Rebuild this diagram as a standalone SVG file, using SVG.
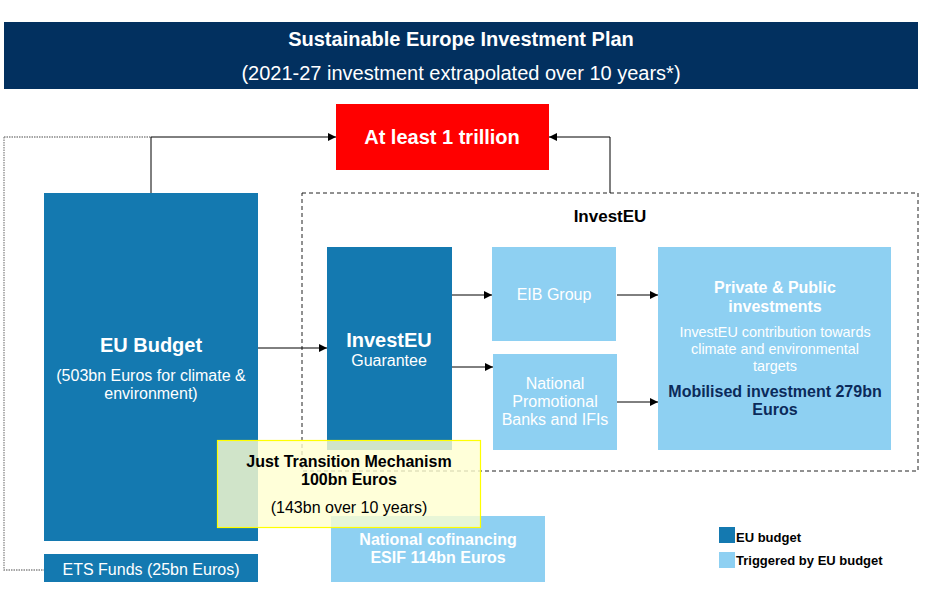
<svg xmlns="http://www.w3.org/2000/svg" width="944" height="600" viewBox="0 0 944 600">
<defs>
<marker id="arr" viewBox="0 0 10 10" refX="10" refY="5" markerWidth="8" markerHeight="8" markerUnits="userSpaceOnUse" orient="auto"><path d="M0,0 L10,5 L0,10 z" fill="#000"/></marker>
<style>
text{font-family:"Liberation Sans",Arial,sans-serif;text-anchor:middle}
.dark{fill:#1479b0}
.light{fill:#8ed0f2}
.w{fill:#fff}
.b{font-weight:bold}
.t15{font-size:16px}
.t20{font-size:20px}
.conn{stroke:#000;stroke-width:1;fill:none}
</style>
</defs>
<rect width="944" height="600" fill="#fff"/>
<g id="header">
<rect x="4" y="22" width="914" height="67" fill="#02305f"/>
<text x="461" y="46" class="w b" font-size="20">Sustainable Europe Investment Plan</text>
<text x="461" y="80" class="w" font-size="20">(2021-27 investment extrapolated over 10 years*)</text>
</g>
<g id="investeu-frame">
<rect x="302" y="193" width="616" height="278" fill="none" stroke="#222" stroke-dasharray="4,3"/>
<text x="610" y="222" class="b" font-size="17">InvestEU</text>
</g>
<g id="connectors">
<path d="M4,137 H151 M4,137 V570 H44" stroke="#888" stroke-width="1.3" stroke-dasharray="1.5,1" fill="none"/>
<path class="conn" d="M151,193 V137 H336" marker-end="url(#arr)"/>
<path class="conn" d="M610,193 V137 H549" marker-end="url(#arr)"/>
<path class="conn" d="M258,348 H327" marker-end="url(#arr)"/>
<path class="conn" d="M452,295 H492" marker-end="url(#arr)"/>
<path class="conn" d="M452,367 H493" marker-end="url(#arr)"/>
<path class="conn" d="M617,295 H658" marker-end="url(#arr)"/>
<path class="conn" d="M617,402 H658" marker-end="url(#arr)"/>
</g>
<g id="trillion">
<rect x="336" y="104" width="213" height="66" fill="#ff0000"/>
<text x="442" y="144" class="w b t20">At least 1 trillion</text>
</g>
<g id="eu-budget">
<rect x="44" y="193" width="214" height="348" class="dark"/>
<text x="151" y="352" class="w b t20">EU Budget</text>
<text x="151" y="381" class="w t15">(503bn Euros for climate &amp;</text>
<text x="151" y="399" class="w t15">environment)</text>
</g>
<g id="ets">
<rect x="44" y="554" width="214" height="28" class="dark"/>
<text x="151" y="575" class="w t15">ETS Funds (25bn Euros)</text>
</g>
<g id="guarantee">
<rect x="327" y="247" width="125" height="203" class="dark"/>
<text x="389" y="347" class="w b t20">InvestEU</text>
<text x="389" y="366" class="w t15">Guarantee</text>
</g>
<g id="eib">
<rect x="492" y="247" width="124" height="94" class="light"/>
<text x="554" y="300" class="w t15">EIB Group</text>
</g>
<g id="npb">
<rect x="493" y="354" width="124" height="96" class="light"/>
<text x="555" y="389" class="w t15">National</text>
<text x="555" y="407" class="w t15">Promotional</text>
<text x="555" y="425" class="w t15">Banks and IFIs</text>
</g>
<g id="private">
<rect x="658" y="247" width="233" height="203" class="light"/>
<text x="775" y="293" class="w b t15">Private &amp; Public</text>
<text x="775" y="312" class="w b t15">investments</text>
<text x="775" y="337" class="w" font-size="14.4">InvestEU contribution towards</text>
<text x="775" y="354" class="w" font-size="14.4">climate and environmental</text>
<text x="775" y="371" class="w" font-size="14.4">targets</text>
<text x="775" y="397" class="b t15" fill="#0b2a5a">Mobilised investment 279bn</text>
<text x="775" y="415" class="b t15" fill="#0b2a5a">Euros</text>
</g>
<g id="cofinancing">
<rect x="331" y="516" width="214" height="66" class="light"/>
<text x="438" y="545" class="w b t15">National cofinancing</text>
<text x="438" y="563" class="w b t15">ESIF 114bn Euros</text>
</g>
<g id="jtm">
<rect x="217.5" y="440.5" width="263" height="87" fill="#ffffd0" fill-opacity="0.8" stroke="#ffff00" stroke-width="1.2"/>
<text x="349" y="467" class="b t15">Just Transition Mechanism</text>
<text x="349" y="485" class="b t15">100bn Euros</text>
<text x="349" y="513" class="t15">(143bn over 10 years)</text>
</g>
<g id="legend">
<rect x="719" y="527" width="16" height="16" class="dark"/>
<text x="736" y="542" class="b" font-size="13" style="text-anchor:start">EU budget</text>
<rect x="719" y="552" width="16" height="16" class="light"/>
<text x="736" y="565" class="b" font-size="13" style="text-anchor:start">Triggered by EU budget</text>
</g>
</svg>
